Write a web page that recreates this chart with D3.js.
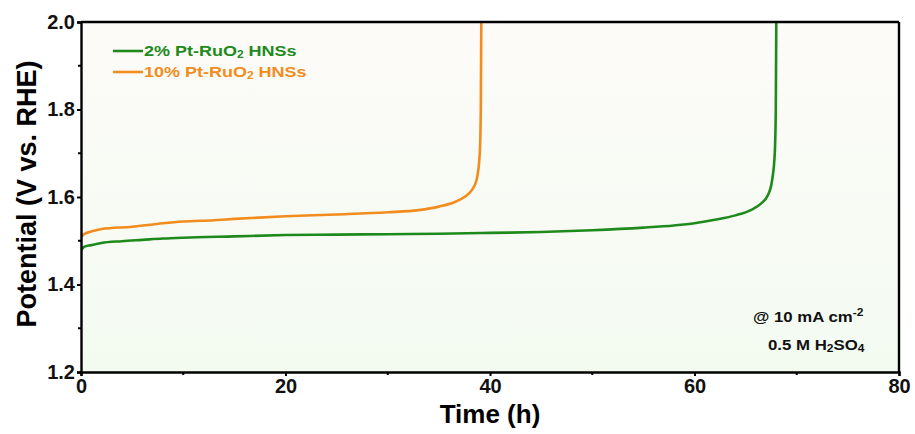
<!doctype html>
<html lang="en">
<head>
    <title>Chronopotentiometry</title>
    <script src="https://d3js.org/d3.v7.min.js"></script>
    <style>
        body { margin: 0; background: #fff; }
        svg text { font-family: "Liberation Sans", Arial, sans-serif; font-weight: bold; }
    </style>
</head>
<body>
    <div id="chart"></div>
    <script>
        // Data
        var seriesNames = ["2% Pt-RuO2 HNSs", "10% Pt-RuO2 HNSs"];
        var seriesColors = ["#1e8a1c", "#f28c1e"];

        var greenTime = [0, 0.3, 1, 2, 4, 6, 8, 10, 15, 20, 25, 30, 35, 40, 45, 50, 55, 58, 60, 62, 64, 65.5, 66.5, 67.2, 67.6, 67.85, 67.95, 68.0];
        var greenVolt = [1.478, 1.486, 1.490, 1.495, 1.499, 1.502, 1.505, 1.507, 1.510, 1.513, 1.514, 1.515, 1.516, 1.518, 1.520, 1.524, 1.530, 1.535, 1.540, 1.548, 1.558, 1.570, 1.585, 1.605, 1.640, 1.700, 1.800, 2.0];

        var orangeTime = [0, 0.3, 1, 2, 5, 8, 10, 13, 15, 20, 25, 30, 33, 35, 36.5, 37.5, 38.2, 38.7, 39.0, 39.1, 39.15];
        var orangeVolt = [1.508, 1.515, 1.521, 1.527, 1.532, 1.540, 1.544, 1.547, 1.550, 1.556, 1.560, 1.565, 1.570, 1.578, 1.588, 1.600, 1.615, 1.640, 1.700, 1.800, 2.0];

        var xTicks = [0, 20, 40, 60, 80];
        var yTicks = [1.2, 1.4, 1.6, 1.8, 2.0];

        // Layout
        var width = 915, height = 434;
        var margin = { left: 81, right: 16, top: 22, bottom: 62 };

        var svg = d3.select("#chart").append("svg")
            .attr("width", width)
            .attr("height", height);

        var x = d3.scaleLinear().domain([0, 80]).range([margin.left, width - margin.right]);
        var y = d3.scaleLinear().domain([1.2, 2.0]).range([height - margin.bottom, margin.top]);

        // Background gradient of the plot area
        var grad = svg.append("defs").append("linearGradient")
            .attr("id", "bg").attr("x1", 0).attr("y1", 0).attr("x2", 0).attr("y2", 1);
        grad.append("stop").attr("offset", "0%").attr("stop-color", "#fdfbf8");
        grad.append("stop").attr("offset", "100%").attr("stop-color", "#f3fbf1");

        svg.append("rect")
            .attr("x", x(0)).attr("y", y(2.0))
            .attr("width", x(80) - x(0)).attr("height", y(1.2) - y(2.0))
            .attr("fill", "url(#bg)");

        // Lines
        var line = d3.line()
            .x(function(d) { return x(d[0]); })
            .y(function(d) { return y(d[1]); })
            .curve(d3.curveMonotoneX);

        var series = [
            d3.zip(greenTime, greenVolt),
            d3.zip(orangeTime, orangeVolt)
        ];

        svg.append("clipPath").attr("id", "clip").append("rect")
            .attr("x", x(0)).attr("y", y(2.0))
            .attr("width", x(80) - x(0)).attr("height", y(1.2) - y(2.0));

        svg.selectAll("path.series")
            .data(series)
            .enter()
            .append("path")
            .attr("class", "series")
            .attr("clip-path", "url(#clip)")
            .attr("d", line)
            .attr("fill", "none")
            .attr("stroke", function(d, i) { return seriesColors[i]; })
            .attr("stroke-width", 2.6);

        // Axes
        var xAxis = svg.append("g")
            .attr("transform", "translate(0," + y(1.2) + ")")
            .call(d3.axisBottom(x).tickValues(xTicks).tickSize(4).tickPadding(3).tickFormat(d3.format("d")));
        var yAxis = svg.append("g")
            .attr("transform", "translate(" + x(0) + ",0)")
            .call(d3.axisLeft(y).tickValues(yTicks).tickSize(4).tickPadding(2).tickFormat(d3.format(".1f")));

        // minor ticks
        svg.append("g").selectAll("line")
            .data([10, 30, 50, 70])
            .enter().append("line")
            .attr("x1", function(d) { return x(d); }).attr("x2", function(d) { return x(d); })
            .attr("y1", y(1.2)).attr("y2", y(1.2) + 3)
            .attr("stroke", "#000").attr("stroke-width", 2);
        svg.append("g").selectAll("line")
            .data([1.3, 1.5, 1.7, 1.9])
            .enter().append("line")
            .attr("x1", x(0)).attr("x2", x(0) - 3)
            .attr("y1", function(d) { return y(d); }).attr("y2", function(d) { return y(d); })
            .attr("stroke", "#000").attr("stroke-width", 2);

        [xAxis, yAxis].forEach(function(g) {
            g.select(".domain").attr("stroke-width", 2.4);
            g.selectAll(".tick line").attr("stroke-width", 2);
            g.selectAll(".tick text")
                .attr("fill", "#111")
                .style("font-size", "20px")
                .style("font-family", "'Liberation Sans', Arial, sans-serif")
                .style("font-weight", "bold");
        });

        // top and right frame
        svg.append("line")
            .attr("x1", x(0)).attr("x2", x(80)).attr("y1", y(2.0)).attr("y2", y(2.0))
            .attr("stroke", "#000").attr("stroke-width", 2.4);
        svg.append("line")
            .attr("x1", x(80)).attr("x2", x(80)).attr("y1", y(2.0)).attr("y2", y(1.2))
            .attr("stroke", "#000").attr("stroke-width", 2.4);

        // Axis titles
        svg.append("text")
            .attr("x", 490).attr("y", 423)
            .attr("text-anchor", "middle")
            .style("font-size", "26px")
            .text("Time (h)");

        svg.append("text")
            .attr("transform", "translate(36,194) rotate(-90)")
            .attr("text-anchor", "middle")
            .style("font-size", "27px")
            .text("Potential (V vs. RHE)");

        // Legend
        var legend = svg.append("g").selectAll("g")
            .data(seriesNames)
            .enter().append("g")
            .attr("transform", function(d, i) { return "translate(113," + (51 + i * 21) + ")"; });

        legend.append("line")
            .attr("x1", 0).attr("x2", 30)
            .attr("stroke", function(d, i) { return seriesColors[i]; })
            .attr("stroke-width", 2.6);

        var lt = legend.append("text")
            .attr("transform", "translate(31,5) scale(1.2,1)")
            .attr("fill", function(d, i) { return seriesColors[i]; })
            .style("font-size", "15px");
        lt.append("tspan").text(function(d) { return d.split("RuO2")[0] + "RuO"; });
        lt.append("tspan").attr("dy", 2).style("font-size", "10px").text("2");
        lt.append("tspan").attr("dy", -2).text(function(d) { return d.split("RuO2")[1]; });

        // Conditions
        var c1 = svg.append("text").attr("transform", "translate(753,322) scale(1.2,1)")
            .style("font-size", "14px").attr("fill", "#111");
        c1.append("tspan").text("@ 10 mA cm");
        c1.append("tspan").attr("dy", -6).style("font-size", "10px").text("-2");

        var c2 = svg.append("text").attr("transform", "translate(768,350) scale(1.2,1)")
            .style("font-size", "14px").attr("fill", "#111");
        c2.append("tspan").text("0.5 M H");
        c2.append("tspan").attr("dy", 2).style("font-size", "10px").text("2");
        c2.append("tspan").attr("dy", -2).text("SO");
        c2.append("tspan").attr("dy", 2).style("font-size", "10px").text("4");
    </script>
</body>
</html>
